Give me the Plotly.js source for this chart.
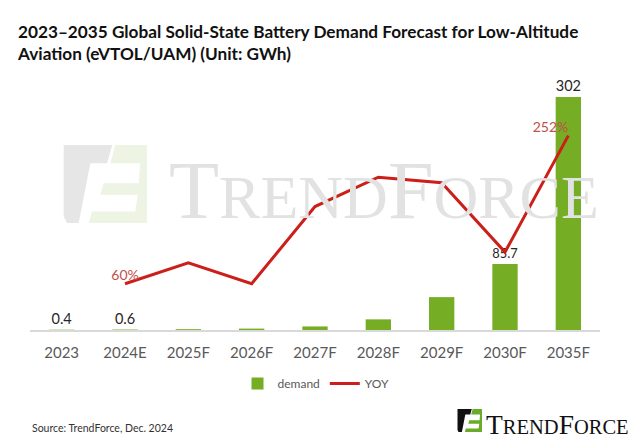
<!DOCTYPE html>
<html>
<head>
<meta charset="utf-8">
<script src="https://cdn.plot.ly/plotly-3.0.1.min.js"></script>
<style>html,body{margin:0;padding:0;background:#fff;}#chart{width:640px;height:444px;}</style>
</head>
<body>
<div id="chart"></div>
<script>
// ---- data ----
const categories = ['2023','2024E','2025F','2026F','2027F','2028F','2029F','2030F','2035F'];
const demand = [0.4, 0.6, 1.1, 1.8, 4.6, 13.8, 42.6, 85.7, 302];
const demandLabelShown = [true, true, false, false, false, false, false, true, true];
const yoy = [null, 60, 87, 60, 160, 198, 191, 101, 252];
const yoyLabelShown = [false, true, false, false, false, false, false, false, true];

// ---- geometry helpers (layout only) ----
const W = 640, H = 444, ML = 30, MR = 40, MT = 60, MB = 114;
const PW = W - ML - MR, PH = H - MT - MB;
const px = x => (x - ML) / PW;
const py = y => (H - MB - y) / PH;

// logo icon outlines in unit box (u right, v down)
const iconDark = [[0.02,0],[0.59,0],[0.53,0.234],[0.333,0.234],[0.196,1],[0.059,1],[0.02,0.915]];
const iconGreen = [[0.627,0],[1,0],[1,1],[0.314,1],[0.353,0.851],[0.863,0.851],[0.89,0.638],[0.451,0.638],[0.49,0.489],[0.902,0.489],[0.922,0.234],[0.569,0.234]];
function iconPath(pts, x0, y0, w, h) {
  return pts.map((p, i) => (i ? 'L' : 'M') + px(x0 + p[0]*w).toFixed(4) + ',' + py(y0 + p[1]*h).toFixed(4)).join(' ') + ' Z';
}
function iconShapes(x0, y0, w, h, c1, c2, layer) {
  return [
    {type:'path', xref:'paper', yref:'paper', path: iconPath(iconDark, x0, y0, w, h), fillcolor:c1, line:{width:0}, layer:layer},
    {type:'path', xref:'paper', yref:'paper', path: iconPath(iconGreen, x0, y0, w, h), fillcolor:c2, line:{width:0}, layer:layer}
  ];
}

const FONT = 'Lato, "Open Sans", sans-serif';

const traces = [
  {
    type: 'bar', name: 'demand', x: categories, y: demand,
    marker: {color: '#75ad24'},
    text: demand.map((v, i) => demandLabelShown[i] ? String(v) : ''),
    textposition: 'outside', cliponaxis: false,
    textfont: {family: FONT, size: 14.5, color: '#262626'},
    hoverinfo: 'none'
  },
  {
    type: 'scatter', mode: 'lines+text', name: 'YOY', x: categories, y: yoy, yaxis: 'y2',
    line: {color: '#cc1f1a', width: 3},
    text: yoy.map((v, i) => yoyLabelShown[i] ? v + '%' : ''),
    textposition: yoy.map((v, i) => i === yoy.length - 1 ? 'top left' : 'top center'),
    textfont: {family: FONT, size: 14, color: '#c0504d'},
    cliponaxis: false, hoverinfo: 'none'
  }
];

const layout = {
  width: W, height: H,
  margin: {l: ML, r: MR, t: MT, b: MB},
  paper_bgcolor: '#ffffff', plot_bgcolor: 'rgba(0,0,0,0)',
  bargap: 0.6,
  showlegend: true,
  title: {
    text: '<b>2023–2035 Global Solid-State Battery Demand Forecast for Low-Altitude<br>Aviation (eVTOL/UAM) (Unit: GWh)</b>',
    font: {family: FONT, size: 17.2, color: '#111'},
    x: 18 / W, xanchor: 'left', xref: 'container',
    y: 1 - 38 / H, yanchor: 'top', yref: 'container'
  },
  xaxis: {
    type: 'category', showgrid: false, zeroline: false,
    showline: true, linecolor: '#d9d9d9', linewidth: 1.5,
    ticks: '', ticklabelstandoff: 8,
    tickfont: {family: FONT, size: 15, color: '#595959'}
  },
  yaxis: {range: [0, 350], visible: false, showgrid: false, zeroline: false},
  yaxis2: {range: [0, 350], overlaying: 'y', side: 'right', visible: false, showgrid: false, zeroline: false},
  legend: {
    orientation: 'h', x: px(316), xanchor: 'center', y: py(369), yanchor: 'top',
    font: {family: FONT, size: 12, color: '#595959'}, bgcolor: 'rgba(0,0,0,0)'
  },
  shapes: [].concat(
    iconShapes(62, 145, 85, 78, '#e6e6e6', '#eef4e3', 'below'),
    iconShapes(457, 409, 25, 23, '#111111', '#6aab2b', 'above')
  ),
  annotations: [
    {
      xref: 'paper', yref: 'paper', x: px(167), y: py(190), xanchor: 'left', yanchor: 'middle',
      text: '<span style="font-size:82px">T</span>REND<span style="font-size:82px">F</span>ORCE',
      showarrow: false, font: {family: '"Liberation Serif", "DejaVu Serif", serif', size: 62, color: '#e2e2e2'}
    },
    {
      xref: 'paper', yref: 'paper', x: px(484), y: py(424), xanchor: 'left', yanchor: 'middle',
      text: '<span style="font-size:27.5px">T</span>REND<span style="font-size:27.5px">F</span>ORCE',
      showarrow: false, font: {family: '"Liberation Serif", "DejaVu Serif", serif', size: 20.5, color: '#111111'}
    },
    {
      xref: 'paper', yref: 'paper', x: px(30), y: py(428), xanchor: 'left', yanchor: 'middle',
      text: 'Source: TrendForce, Dec. 2024',
      showarrow: false, font: {family: FONT, size: 10.5, color: '#333333'}
    }
  ]
};

Plotly.newPlot('chart', traces, layout, {displayModeBar: false, staticPlot: true});
</script>
</body>
</html>
